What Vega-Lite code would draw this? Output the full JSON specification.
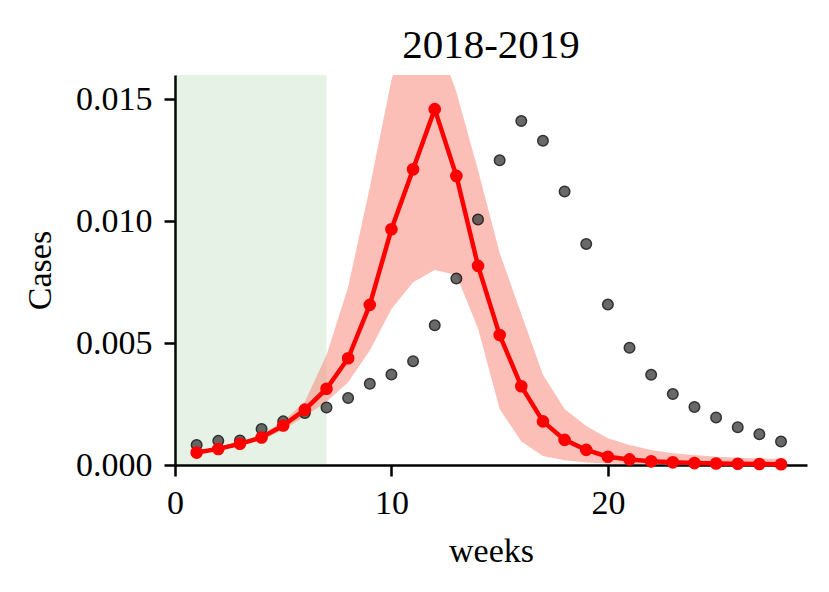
{
  "$schema": "https://vega.github.io/schema/vega-lite/v6.json",
  "width": 632,
  "height": 390,
  "autosize": "none",
  "padding": {"left": 175, "top": 75, "right": 22, "bottom": 127},
  "background": "white",
  "title": {
    "text": "2018-2019",
    "font": "Liberation Serif",
    "fontSize": 41,
    "fontWeight": "normal",
    "color": "black",
    "anchor": "middle",
    "offset": 8
  },
  "config": {
    "view": {"stroke": null},
    "axis": {
      "domainColor": "black",
      "domainWidth": 2.5,
      "tickColor": "black",
      "tickWidth": 2.5,
      "tickSize": 11,
      "grid": false,
      "labelFlush": false,
      "labelFont": "Liberation Serif",
      "labelFontSize": 34,
      "labelColor": "black",
      "titleFont": "Liberation Serif",
      "titleFontSize": 34,
      "titleFontWeight": "normal",
      "titleColor": "black"
    }
  },
  "datasets": {
    "season": [
      {"week": 1, "observed": 0.00082, "predicted": 0.00051, "lower": 0.00046, "upper": 0.00056},
      {"week": 2, "observed": 0.00099, "predicted": 0.00066, "lower": 0.0006, "upper": 0.00072},
      {"week": 3, "observed": 0.00101, "predicted": 0.00087, "lower": 0.0008, "upper": 0.00094},
      {"week": 4, "observed": 0.00148, "predicted": 0.00113, "lower": 0.00102, "upper": 0.00124},
      {"week": 5, "observed": 0.00179, "predicted": 0.00162, "lower": 0.00145, "upper": 0.0018},
      {"week": 6, "observed": 0.00213, "predicted": 0.00227, "lower": 0.002, "upper": 0.0026},
      {"week": 7, "observed": 0.00236, "predicted": 0.00313, "lower": 0.0026, "upper": 0.0045},
      {"week": 8, "observed": 0.00275, "predicted": 0.00438, "lower": 0.0034, "upper": 0.0073},
      {"week": 9, "observed": 0.00333, "predicted": 0.00657, "lower": 0.0047, "upper": 0.0114},
      {"week": 10, "observed": 0.00371, "predicted": 0.00967, "lower": 0.0064, "upper": 0.0158},
      {"week": 11, "observed": 0.00426, "predicted": 0.01213, "lower": 0.0075, "upper": 0.0185},
      {"week": 12, "observed": 0.00573, "predicted": 0.0146, "lower": 0.008, "upper": 0.0178},
      {"week": 13, "observed": 0.00765, "predicted": 0.01186, "lower": 0.0078, "upper": 0.0153},
      {"week": 14, "observed": 0.01007, "predicted": 0.00817, "lower": 0.0056, "upper": 0.0121},
      {"week": 15, "observed": 0.0125, "predicted": 0.00533, "lower": 0.0023, "upper": 0.0087},
      {"week": 16, "observed": 0.01411, "predicted": 0.00323, "lower": 0.00096, "upper": 0.0062},
      {"week": 17, "observed": 0.0133, "predicted": 0.00179, "lower": 0.00037, "upper": 0.0037},
      {"week": 18, "observed": 0.01122, "predicted": 0.00103, "lower": 0.0002, "upper": 0.0023},
      {"week": 19, "observed": 0.00907, "predicted": 0.00062, "lower": 0.0001, "upper": 0.0016},
      {"week": 20, "observed": 0.00658, "predicted": 0.00034, "lower": 0.00006, "upper": 0.0011},
      {"week": 21, "observed": 0.00481, "predicted": 0.00023, "lower": 0.00004, "upper": 0.00082},
      {"week": 22, "observed": 0.0037, "predicted": 0.00015, "lower": 0.00003, "upper": 0.00062},
      {"week": 23, "observed": 0.00291, "predicted": 0.00011, "lower": 0.00002, "upper": 0.00048},
      {"week": 24, "observed": 0.00238, "predicted": 0.00008, "lower": 0.00002, "upper": 0.00041},
      {"week": 25, "observed": 0.00195, "predicted": 0.00006, "lower": 0.00001, "upper": 0.00034},
      {"week": 26, "observed": 0.00155, "predicted": 0.00005, "lower": 0.00001, "upper": 0.0003},
      {"week": 27, "observed": 0.00126, "predicted": 0.00004, "lower": 0.00001, "upper": 0.00027},
      {"week": 28, "observed": 0.00096, "predicted": 0.00003, "lower": 0.00001, "upper": 0.00025}
    ],
    "shade": [{"start": 0, "end": 7}]
  },
  "layer": [
    {
      "data": {"name": "shade"},
      "mark": {"type": "rect", "color": "green", "opacity": 0.1},
      "encoding": {
        "x": {
          "field": "start",
          "type": "quantitative",
          "title": "weeks",
          "scale": {"domain": [0, 29.2], "nice": false, "zero": false},
          "axis": {"values": [0, 10, 20], "format": "d", "labelPadding": 10, "titlePadding": 14}
        },
        "x2": {"field": "end"}
      }
    },
    {
      "data": {"name": "season"},
      "mark": {"type": "area", "color": "salmon", "opacity": 0.5, "clip": true},
      "encoding": {
        "x": {"field": "week", "type": "quantitative"},
        "y": {
          "field": "lower",
          "type": "quantitative",
          "title": "Cases",
          "scale": {"domain": [0, 0.016], "nice": false},
          "axis": {"values": [0, 0.005, 0.01, 0.015], "format": ".3f", "labelPadding": 12, "titlePadding": 18}
        },
        "y2": {"field": "upper"}
      }
    },
    {
      "data": {"name": "season"},
      "mark": {"type": "circle", "size": 110, "color": "#444444", "opacity": 0.8, "stroke": "black", "strokeWidth": 1.5},
      "encoding": {
        "x": {"field": "week", "type": "quantitative"},
        "y": {"field": "observed", "type": "quantitative"}
      }
    },
    {
      "data": {"name": "season"},
      "mark": {"type": "line", "color": "red", "strokeWidth": 4.5, "point": {"filled": true, "color": "red", "size": 160}},
      "encoding": {
        "x": {"field": "week", "type": "quantitative"},
        "y": {"field": "predicted", "type": "quantitative"}
      }
    }
  ]
}
